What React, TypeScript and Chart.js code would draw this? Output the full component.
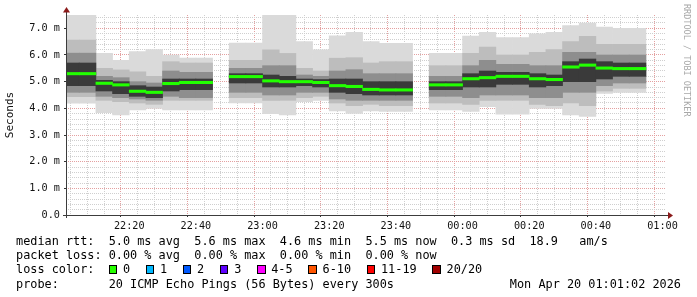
import React, { useEffect, useRef } from "react";
import { Chart, registerables } from "chart.js";

Chart.register(...registerables);

// ---- data (SmokePing, 5-minute steps, values in ms) ----
const slotLabels = [
  "22:00", "22:05", "22:10", "22:15", "22:20", "22:25", "22:30", "22:35", "22:40", "22:45", "22:50", "22:55",
  "23:00", "23:05", "23:10", "23:15", "23:20", "23:25", "23:30", "23:35", "23:40", "23:45", "23:50", "23:55",
  "00:00", "00:05", "00:10", "00:15", "00:20", "00:25", "00:30", "00:35", "00:40", "00:45", "00:50", "00:55",
];

const medianRtt = [5.30, 5.30, 4.94, 4.88, 4.64, 4.60, 4.93, 4.97, 4.97, null, 5.19, 5.19, 5.03, 5.00, 5.00, 4.97, 4.85, 4.82, 4.71, 4.69, 4.69, null, 4.88, 4.88, 5.11, 5.15, 5.20, 5.20, 5.11, 5.08, 5.55, 5.62, 5.51, 5.49, 5.49, null];
const pingMax = [7.6, 7.6, 6.06, 5.80, 6.13, 6.20, 6.00, 5.88, 5.88, null, 6.45, 6.45, 7.6, 7.6, 6.50, 6.19, 6.72, 6.85, 6.50, 6.44, 6.44, null, 6.06, 6.06, 6.71, 6.85, 6.65, 6.65, 6.79, 6.85, 7.10, 7.20, 7.05, 7.00, 7.00, null];
const pingHi2 = [6.56, 6.56, 5.50, 5.44, 5.37, 5.20, 5.75, 5.70, 5.70, null, 5.80, 5.80, 6.19, 6.06, 5.50, 5.40, 5.88, 5.90, 5.70, 5.75, 5.75, null, 5.60, 5.60, 6.06, 6.30, 6.00, 6.00, 6.10, 6.20, 6.50, 6.70, 6.40, 6.40, 6.40, null];
const pingHi3 = [6.07, 6.07, 5.20, 5.15, 5.00, 4.95, 5.40, 5.35, 5.35, null, 5.50, 5.50, 5.60, 5.60, 5.25, 5.20, 5.40, 5.45, 5.30, 5.30, 5.30, null, 5.20, 5.20, 5.60, 5.80, 5.65, 5.65, 5.60, 5.60, 6.10, 6.10, 6.00, 6.00, 6.00, null];
const pingHi4 = [5.70, 5.70, 5.05, 5.00, 4.85, 4.80, 5.10, 5.10, 5.10, null, 5.30, 5.30, 5.25, 5.20, 5.10, 5.08, 5.10, 5.10, 5.00, 5.00, 5.00, null, 5.00, 5.00, 5.30, 5.40, 5.35, 5.35, 5.30, 5.25, 5.75, 5.85, 5.75, 5.70, 5.70, null];
const pingLo4 = [4.85, 4.85, 4.65, 4.55, 4.45, 4.40, 4.65, 4.70, 4.70, null, 4.95, 4.95, 4.80, 4.80, 4.85, 4.80, 4.60, 4.55, 4.50, 4.50, 4.50, null, 4.70, 4.70, 4.80, 4.80, 4.90, 4.90, 4.80, 4.85, 5.00, 5.00, 5.10, 5.20, 5.20, null];
const pingLo3 = [4.60, 4.60, 4.45, 4.40, 4.35, 4.30, 4.45, 4.40, 4.40, null, 4.60, 4.60, 4.50, 4.50, 4.60, 4.60, 4.35, 4.30, 4.30, 4.30, 4.30, null, 4.45, 4.45, 4.40, 4.50, 4.50, 4.50, 4.40, 4.40, 4.60, 4.60, 4.85, 4.95, 4.95, null];
const pingLo2 = [4.44, 4.44, 4.30, 4.25, 4.20, 4.15, 4.30, 4.30, 4.30, null, 4.40, 4.40, 4.30, 4.30, 4.40, 4.45, 4.20, 4.10, 4.15, 4.10, 4.10, null, 4.20, 4.20, 4.15, 4.30, 4.30, 4.30, 4.15, 4.10, 4.20, 4.10, 4.65, 4.75, 4.75, null];
const pingMin = [4.19, 4.19, 3.84, 3.75, 3.94, 4.00, 3.94, 3.94, 3.94, null, 4.20, 4.20, 3.80, 3.75, 4.25, 4.30, 3.90, 3.81, 3.90, 3.88, 3.88, null, 3.94, 3.94, 3.88, 4.06, 3.78, 3.78, 4.00, 4.00, 3.75, 3.70, 4.56, 4.60, 4.60, null];

const rangeStart = "22:01:02";
const rangeEnd = "01:01:02";
const yMax = 7.5;

const lossLabels = ["0", "1", "2", "3", "4-5", "6-10", "11-19", "20/20"];
const lossColors = ["#26ff00", "#00b8ff", "#0059ff", "#5e00ff", "#ff00ff", "#ff5500", "#ff0000", "#a10000"];

const statsLine = "median rtt:  5.0 ms avg  5.6 ms max  4.6 ms min  5.5 ms now  0.3 ms sd  18.9   am/s";
const lossLine = "packet loss: 0.00 % avg  0.00 % max  0.00 % min  0.00 % now";
const probeLine = "probe:       20 ICMP Echo Pings (56 Bytes) every 300s";
const dateLine = "Mon Apr 20 01:01:02 2026";

// ---- helpers ----
function toMinutes(s: string): number {
  const p = s.split(":").map(Number);
  const h = p[0] < 12 ? p[0] + 24 : p[0];
  return (h - 22) * 60 + p[1] + (p[2] || 0) / 60;
}

function fmtTime(v: number): string {
  const h = (22 + Math.floor(v / 60)) % 24;
  const m = v % 60;
  return String(h).padStart(2, "0") + ":" + String(m).padStart(2, "0");
}

function band(label: string, lo: (number | null)[], hi: (number | null)[], color: string, order: number) {
  const data: any[] = [];
  slotLabels.forEach((s, i) => {
    const a = lo[i];
    const b = hi[i];
    if (a == null || b == null) return;
    data.push({ x: toMinutes(s) + 2.5, y: [a, b] });
  });
  return {
    type: "bar" as const,
    label,
    data,
    backgroundColor: color,
    borderWidth: 0,
    grouped: false,
    barPercentage: 1,
    categoryPercentage: 1,
    clip: 0,
    order,
  };
}

function medianLine() {
  const data: any[] = [];
  slotLabels.forEach((s, i) => {
    const m = medianRtt[i];
    if (m == null) return;
    data.push({ x: toMinutes(s) + 2.5, y: [m - 0.045, m + 0.045] });
  });
  return {
    type: "bar" as const,
    label: "median rtt",
    data,
    backgroundColor: "#22ff00",
    borderWidth: 0,
    grouped: false,
    barPercentage: 1,
    categoryPercentage: 1,
    clip: 0,
    order: 0,
  };
}

const isInt = (v: number) => Math.abs(v - Math.round(v)) < 1e-6;

const axisDecor = {
  id: "axisDecor",
  afterDraw(chart: any) {
    const { ctx, chartArea } = chart;
    const { left, right, top, bottom } = chartArea;
    ctx.save();
    ctx.strokeStyle = "#3c3c3c";
    ctx.lineWidth = 1;
    ctx.beginPath();
    ctx.moveTo(left + 0.5, bottom + 3);
    ctx.lineTo(left + 0.5, top - 4);
    ctx.moveTo(left - 3, bottom + 0.5);
    ctx.lineTo(right + 3, bottom + 0.5);
    ctx.stroke();
    ctx.fillStyle = "#8b1a1a";
    ctx.beginPath();
    ctx.moveTo(left + 0.5, top - 8);
    ctx.lineTo(left - 3, top - 2.5);
    ctx.lineTo(left + 4, top - 2.5);
    ctx.closePath();
    ctx.fill();
    ctx.beginPath();
    ctx.moveTo(right + 7, bottom + 0.5);
    ctx.lineTo(right + 2, bottom - 3);
    ctx.lineTo(right + 2, bottom + 4);
    ctx.closePath();
    ctx.fill();
    ctx.restore();
  },
};

export default function App() {
  const ref = useRef<HTMLCanvasElement>(null);

  useEffect(() => {
    const canvas = ref.current;
    if (!canvas) return;
    const xMin = toMinutes(rangeStart);
    const xMax = toMinutes(rangeEnd);
    const mono = "'DejaVu Sans Mono', monospace";

    const chart = new Chart(canvas, {
      type: "bar",
      data: {
        datasets: [
          medianLine(),
          band("core", pingLo4, pingHi4, "#3a3a3a", 1),
          band("mid", pingLo3, pingHi3, "#8e8e8e", 2),
          band("light", pingLo2, pingHi2, "#bdbdbd", 3),
          band("range", pingMin, pingMax, "#dadada", 4),
        ] as any,
      },
      options: {
        responsive: false,
        maintainAspectRatio: false,
        animation: false,
        devicePixelRatio: 1,
        layout: { padding: { left: 0, right: 31, top: 15, bottom: 62 } },
        plugins: { legend: { display: false }, tooltip: { enabled: false } },
        scales: {
          x: {
            type: "linear",
            min: xMin,
            max: xMax,
            offset: false,
            z: 1,
            afterBuildTicks: (scale: any) => {
              const t: any[] = [];
              for (let v = 5; v <= 180; v += 5) t.push({ value: v });
              scale.ticks = t;
            },
            afterFit: (scale: any) => {
              scale.height = 20;
            },
            ticks: {
              autoSkip: false,
              maxRotation: 0,
              minRotation: 0,
              padding: 3,
              color: "#111",
              font: { family: mono, size: 10.2 },
              callback: (v: any) => (Number(v) % 20 === 0 ? fmtTime(Number(v)) : ""),
            },
            grid: {
              color: (c: any) => (c.tick && Number(c.tick.value) % 20 === 0 ? "#e4a0a0" : "#cfcfcf"),
              lineWidth: 1,
              drawTicks: true,
              tickLength: 2,
              tickColor: (c: any) => (c.tick && Number(c.tick.value) % 20 === 0 ? "#333" : "rgba(0,0,0,0)"),
            },
            border: { display: false, dash: [1, 1] },
          },
          y: {
            type: "linear",
            min: 0,
            max: yMax,
            z: 1,
            afterBuildTicks: (scale: any) => {
              const t: any[] = [];
              for (let i = 0; i <= 37; i++) t.push({ value: Math.round(i * 2) / 10 });
              scale.ticks = t;
            },
            afterFit: (scale: any) => {
              scale.width = 66;
            },
            ticks: {
              autoSkip: false,
              padding: 4,
              color: "#111",
              font: { family: mono, size: 10.2 },
              callback: (v: any) => {
                const n = Number(v);
                if (!isInt(n)) return "";
                return n === 0 ? "0.0" : n.toFixed(1) + " m";
              },
            },
            grid: {
              color: (c: any) => (c.tick && isInt(Number(c.tick.value)) ? "#e4a0a0" : "#cfcfcf"),
              lineWidth: 1,
              drawTicks: true,
              tickLength: 2,
              tickColor: (c: any) => (c.tick && isInt(Number(c.tick.value)) ? "#333" : "rgba(0,0,0,0)"),
            },
            border: { display: false, dash: [1, 1] },
            title: {
              display: true,
              text: "Seconds",
              color: "#111",
              font: { family: mono, size: 11 },
              padding: { top: 4, bottom: 0 },
            },
          },
        },
      } as any,
      plugins: [axisDecor],
    });
    return () => chart.destroy();
  }, []);

  const mono = "'DejaVu Sans Mono', monospace";
  const lineStyle = (top: number): React.CSSProperties => ({
    position: "absolute",
    left: 16,
    top,
    fontFamily: mono,
    fontSize: 11.85,
    lineHeight: "14px",
    whiteSpace: "pre",
    color: "#000",
  });

  return (
    <div style={{ position: "fixed", left: 0, top: 0, width: 697, height: 297, background: "#fff", overflow: "hidden" }}>
      <canvas ref={ref} width={697} height={297} style={{ position: "absolute", left: 0, top: 0 }} />
      <div style={lineStyle(234)}>{statsLine}</div>
      <div style={lineStyle(248)}>{lossLine}</div>
      <div style={lineStyle(262)}>
        <span>{"loss color:  "}</span>
        {lossLabels.map((l, i) => (
          <span key={l}>
            <span
              style={{
                display: "inline-block",
                width: "1.2ch",
                height: 9,
                marginRight: "0.8ch",
                background: lossColors[i],
                border: "1px solid #000",
                boxSizing: "border-box",
                verticalAlign: "-1px",
              }}
            />
            <span>{l}</span>
            <span style={{ display: "inline-block", width: "2.2ch" }} />
          </span>
        ))}
      </div>
      <div style={lineStyle(277)}>{probeLine}</div>
      <div style={{ ...lineStyle(277), left: "auto", right: 16 }}>{dateLine}</div>
      <div
        style={{
          position: "absolute",
          left: 682,
          top: 4,
          writingMode: "vertical-rl",
          fontFamily: mono,
          fontSize: 8.5,
          lineHeight: "10px",
          color: "#a8a8a8",
          whiteSpace: "pre",
        }}
      >
        RRDTOOL / TOBI OETIKER
      </div>
    </div>
  );
}
